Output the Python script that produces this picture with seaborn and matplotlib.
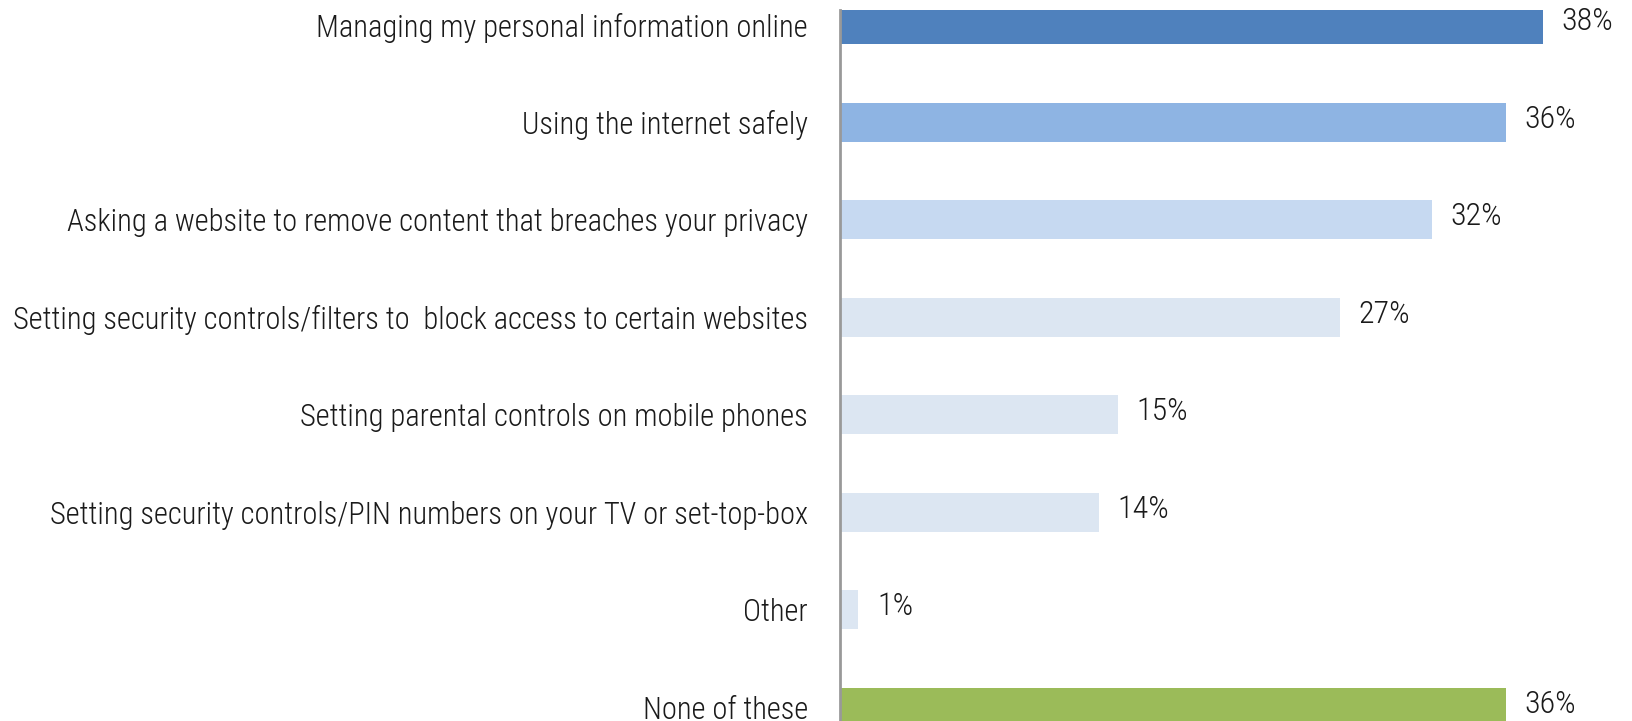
import matplotlib
matplotlib.use("Agg")
import matplotlib.pyplot as plt
import seaborn as sns
import pandas as pd
from matplotlib import font_manager

categories = [
    "Managing my personal information online",
    "Using the internet safely",
    "Asking a website to remove content that breaches your privacy",
    "Setting security controls/filters to  block access to certain websites",
    "Setting parental controls on mobile phones",
    "Setting security controls/PIN numbers on your TV or set-top-box",
    "Other",
    "None of these",
]
values = [38, 36, 32, 27, 15, 14, 1, 36]
bar_colors = ["#4F81BD", "#8EB4E3", "#C6D9F1", "#DCE6F2", "#DCE6F2",
              "#DCE6F2", "#DCE6F2", "#9BBB59"]
value_labels = ["38%", "36%", "32%", "27%", "15%", "14%", "1%", "36%"]

sns.set_theme(style="white")
names = {f.name for f in font_manager.fontManager.ttflist}
fam = "Liberation Sans"
for cand in ["Liberation Sans Narrow", "Roboto Condensed", "Arial Narrow"]:
    if cand in names:
        fam = cand
        break
plt.rcParams["font.family"] = [fam, "DejaVu Sans"]
plt.rcParams["font.weight"] = "light"

df = pd.DataFrame({"cat": categories, "val": values})

W, H = 1632, 721
fig = plt.figure(figsize=(W / 100, H / 100), dpi=100)
ax = fig.add_axes([840 / W, 0, 1 - 840 / W, 1 - 10 / H])

sns.barplot(data=df, x="val", y="cat", hue="cat", palette=bar_colors,
            dodge=False, legend=False, width=0.4, orient="h", ax=ax,
            saturation=1, linewidth=0)

ax.set_xlim(0, (W - 840) / 18.5)
ax.set_ylim(7.14, -0.149)
ax.set_xlabel("")
ax.set_ylabel("")
ax.set_xticks([])
for s in ["top", "right", "bottom"]:
    ax.spines[s].set_visible(False)
ax.spines["left"].set_color("#999999")
ax.spines["left"].set_linewidth(2)
ax.tick_params(axis="y", length=0, pad=23, labelsize=22, labelcolor="#1a1a1a")

for i, (v, lab) in enumerate(zip(values, value_labels)):
    ax.text(v + 1.0, i - 0.03, lab, va="center", ha="left", fontsize=23,
            color="#1a1a1a", clip_on=False)

fig.savefig("out.png", dpi=100)
